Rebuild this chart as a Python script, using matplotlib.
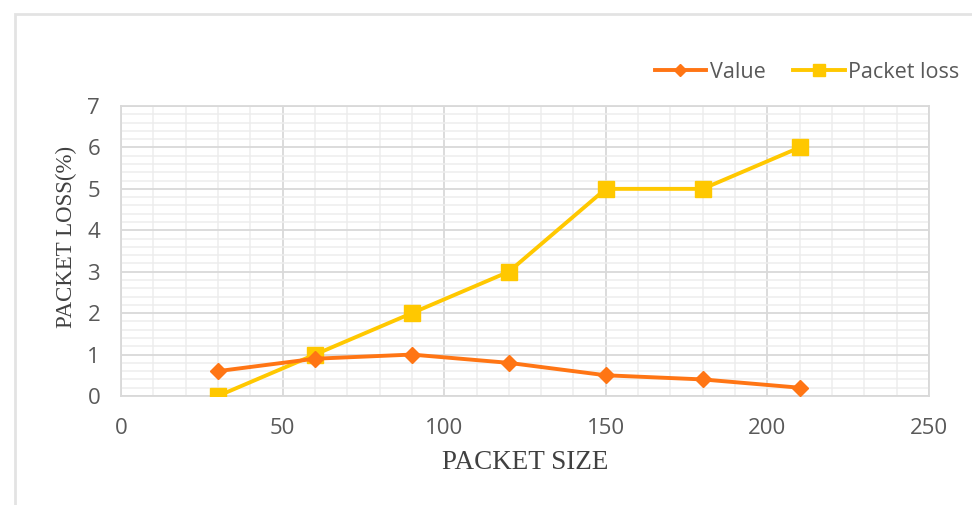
import matplotlib.pyplot as plt
from matplotlib.patches import Rectangle
from matplotlib.ticker import MultipleLocator

packet_size = [30, 60, 90, 120, 150, 180, 210]
value = [0.6, 0.9, 1.0, 0.8, 0.5, 0.4, 0.2]
packet_loss = [0, 1, 2, 3, 5, 5, 6]

orange = '#FF7514'
yellow = '#FFC800'
text_gray = '#595959'
title_gray = '#404040'

fig = plt.figure(figsize=(9.72, 5.05), dpi=100)
fig.patches.append(Rectangle((15 / 972, -0.1), 1.1, 1 - 14 / 505 + 0.1, transform=fig.transFigure,
                             fill=False, edgecolor='#E3E3E3', linewidth=2))

ax = fig.add_axes([121 / 972, 109 / 505, 808 / 972, 290 / 505])

ax.plot(packet_size, value, color=orange, linewidth=2.8, marker='D', markersize=8.5,
        label='Value', zorder=4)
ax.plot(packet_size, packet_loss, color=yellow, linewidth=2.8, marker='s', markersize=12,
        label='Packet loss', zorder=3)

ax.set_xlim(0, 250)
ax.set_ylim(0, 7)
ax.xaxis.set_major_locator(MultipleLocator(50))
ax.xaxis.set_minor_locator(MultipleLocator(10))
ax.yaxis.set_major_locator(MultipleLocator(1))
ax.yaxis.set_minor_locator(MultipleLocator(0.2))
ax.grid(which='major', color='#D9D9D9', linewidth=1.3)
ax.grid(which='minor', color='#EDEDED', linewidth=1.1)
ax.set_axisbelow(True)
for s in ax.spines.values():
    s.set_color('#D9D9D9')
    s.set_linewidth(1.3)

ax.tick_params(which='both', length=0)
ax.tick_params(axis='x', pad=16, labelsize=16, labelcolor=text_gray)
ax.tick_params(axis='y', pad=15, labelsize=16, labelcolor=text_gray)
for lab in ax.get_xticklabels() + ax.get_yticklabels():
    lab.set_family('Open Sans')

ax.set_xlabel('PACKET SIZE', family='Liberation Serif', fontsize=19.5, color=title_gray, labelpad=8)
ax.set_ylabel('PACKET LOSS(%)', family='Liberation Serif', fontsize=16.5, color=title_gray)
ax.yaxis.set_label_coords(-0.055, 0.55)

fig.legend(loc='center right', bbox_to_anchor=(1.007, 1 - 72 / 505), ncol=2, frameon=False,
           prop={'family': 'Open Sans', 'size': 15.5}, labelcolor=text_gray,
           handlelength=2.4, handletextpad=0.15, columnspacing=1.3, markerscale=0.75)

fig.savefig('out.png', dpi=100)
